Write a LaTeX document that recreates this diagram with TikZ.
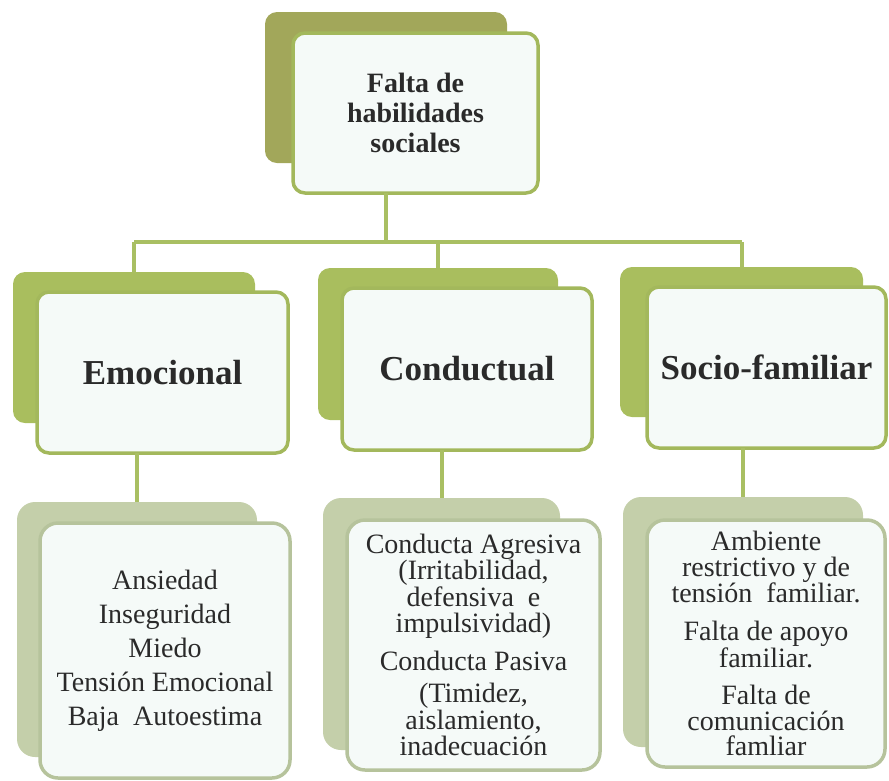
\documentclass[tikz,border=0pt]{standalone}
\usepackage{fontspec}
\setmainfont{Liberation Serif}
\newfontfamily\tnr{Liberation Serif}
\definecolor{backtop}{HTML}{A2A75A}
\definecolor{backmid}{HTML}{A9BE5E}
\definecolor{bordermid}{HTML}{A3B85C}
\definecolor{backlow}{HTML}{C4CFAA}
\definecolor{borderlow}{HTML}{B6C39C}
\definecolor{frontfill}{HTML}{F5FAF8}
\definecolor{connc}{HTML}{A9BF63}
\definecolor{txt}{HTML}{2A2A2A}
\begin{document}
\begin{tikzpicture}[x=1pt,y=-1pt,
  every node/.style={inner sep=0pt, outer sep=0pt, text=txt},
  backbox/.style={rectangle, rounded corners=12pt, fill=#1},
  frontbox/.style={rectangle, rounded corners=12pt, fill=frontfill, draw=#1, line width=3.5pt, align=center},
  lowback/.style={rectangle, rounded corners=18pt, fill=backlow},
  lowfront/.style={rectangle, rounded corners=18pt, fill=frontfill, draw=borderlow, line width=3.5pt, align=center},
  conn/.style={draw=connc, line width=4pt},
  toptext/.style={font={\tnr\fontsize{28pt}{30pt}\selectfont\bfseries}},
  midtext/.style={font={\tnr\fontsize{35pt}{40pt}\selectfont\bfseries}},
  lowtext/.style={font={\tnr\fontsize{28pt}{#1}\selectfont}}
]
\useasboundingbox (0,0) rectangle (889,780);

% top
\node[backbox=backtop, minimum width=242pt, minimum height=151pt] (btop) at (386,87.5) {};
\node[frontbox=bordermid, minimum width=245pt, minimum height=160pt, toptext] (ftop) at (415.5,113) {Falta de\\habilidades\\sociales};

% middle row
\node[backbox=backmid, minimum width=242pt, minimum height=151pt] (bemo) at (134,347.5) {};
\node[frontbox=bordermid, minimum width=251pt, minimum height=161pt, midtext] (femo) at (162.5,372.5) {Emocional};

\node[backbox=backmid, minimum width=240pt, minimum height=152pt] (bcon) at (438,344) {};
\node[frontbox=bordermid, minimum width=250pt, minimum height=162pt, midtext] (fcon) at (467,369) {Conductual};

\node[backbox=backmid, minimum width=243pt, minimum height=150pt] (bsoc) at (741.5,342) {};
\node[frontbox=bordermid, minimum width=239pt, minimum height=161pt, midtext] (fsoc) at (766.5,367.5) {Socio-familiar};

% bottom row
\node[lowback, minimum width=240pt, minimum height=255pt] (bemo2) at (137,629.5) {};
\node[lowfront, minimum width=250pt, minimum height=255pt, lowtext=34pt] (femo2) at (165,650.5)
  {Ansiedad\\Inseguridad\\Miedo\\Tensión Emocional\\Baja\ \ Autoestima};

\node[lowback, minimum width=237pt, minimum height=252pt] (bcon2) at (441.5,624) {};
\node[lowfront, minimum width=253pt, minimum height=250pt, lowtext=26.5pt] (fcon2) at (473.5,645)
  {Conducta Agresiva\\(Irritabilidad,\\defensiva\ \ e\\impulsividad)\\[11pt]Conducta Pasiva\\[6pt](Timidez,\\aislamiento,\\inadecuación};

\node[lowback, minimum width=240pt, minimum height=250pt] (bsoc2) at (743,622) {};
\node[lowfront, minimum width=238pt, minimum height=247pt, lowtext=25.5pt] (fsoc2) at (766,643.5)
  {Ambiente\\restrictivo y de\\tensión\ \ familiar.\\[12pt]Falta de apoyo\\familiar.\\[12pt]Falta de\\comunicación\\famliar};

% connectors
\coordinate (bus) at (388,242);
\draw[conn] (btop.south |- ftop.south) -- (btop.south |- bus);
\draw[conn] (bemo.north |- bus) -- (bsoc.north |- bus);
\draw[conn] (bemo.north |- bus) -- (bemo.north);
\draw[conn] (bcon.north |- bus) -- (bcon.north);
\draw[conn] (bsoc.north |- bus) -- (bsoc.north);
\draw[conn] (bemo2.north |- femo.south) -- (bemo2.north);
\draw[conn] (bcon2.north |- fcon.south) -- (bcon2.north);
\draw[conn] (bsoc2.north |- fsoc.south) -- (bsoc2.north);
\end{tikzpicture}
\end{document}
